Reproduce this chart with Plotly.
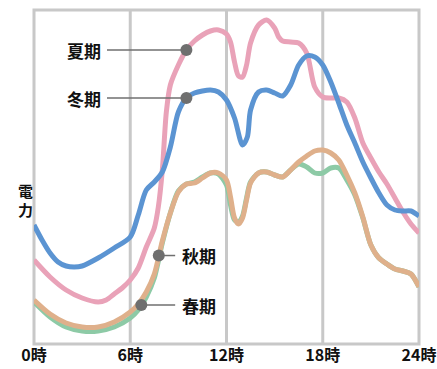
import numpy as np
import plotly.graph_objects as go

# hours of day
hours = [0, 0.5, 1, 1.5, 2, 2.5, 3, 4, 5, 6, 6.5, 7, 7.5, 8, 8.5, 9, 9.5, 10, 11, 11.5,
         12, 12.5, 13, 13.3, 13.5, 14, 14.5, 15, 15.5, 16, 16.5, 17, 17.5, 18, 18.5,
         19, 19.5, 20, 20.5, 21, 21.5, 22, 22.5, 23, 23.5, 24]
winter = [119, 104, 91, 82, 78, 77, 78, 86, 96, 107, 129, 154, 162, 172, 197, 232,
          246, 251, 254, 252, 244, 226, 199, 207, 234, 252, 254, 251, 248, 259, 279,
          288, 287, 279, 262, 241, 219, 201, 182, 166, 151, 139, 134, 133, 133, 128]

hours_s = [0, 1, 2, 3, 4, 4.5, 5, 5.5, 6, 6.5, 7, 7.5, 7.75, 8, 8.25, 8.5, 9, 9.5, 10,
           10.5, 11, 11.5, 12, 12.25, 12.5, 12.75, 13, 13.25, 13.5, 14, 14.5, 15, 15.25,
           15.5, 16, 16.5, 17, 17.5, 18, 18.5, 19, 19.5, 20, 20.5, 21, 21.5, 22, 22.5,
           23, 23.5, 24]
summer = [84, 67, 54, 46, 42, 44, 50, 56, 64, 76, 97, 116, 137, 174, 232, 259, 279,
          294, 303, 309, 313, 314, 310, 302, 282, 268, 267, 279, 301, 319, 324, 316,
          307, 303, 302, 301, 291, 257, 247, 246, 246, 242, 226, 201, 186, 172, 160,
          146, 132, 120, 111]

hours_a = [0, 1, 2, 3, 4, 5, 6, 6.5, 7, 7.5, 8, 8.5, 9, 9.5, 10, 10.5, 11, 11.5, 12,
           12.25, 12.5, 12.75, 13, 13.25, 13.5, 14, 14.5, 15, 15.5, 16, 16.5, 17, 17.5,
           18, 18.5, 19, 19.5, 20, 20.5, 21, 21.5, 22, 22.5, 23, 23.5, 24]
autumn = [44, 30, 21, 17, 17, 22, 32, 40, 52, 70, 103, 131, 152, 160, 161, 166, 171,
          171, 164, 147, 126, 120, 126, 144, 161, 171, 172, 169, 167, 174, 182, 188,
          193, 194, 191, 184, 169, 151, 127, 99, 86, 80, 75, 73, 70, 57]
spring = [42, 27, 17, 13, 13, 17, 26, 34, 47, 66, 101, 131, 153, 160, 162, 167, 171,
          170, 159, 139, 124, 122, 128, 146, 162, 171, 172, 169, 167, 174, 180, 177,
          171, 171, 176, 176, 164, 149, 126, 99, 86, 80, 75, 73, 70, 57]

tick_vals = [0, 6, 12, 18, 24]
tick_text = ["0時", "6時", "12時", "18時", "24時"]
grid_hours = [6, 12, 18]
axis_label = ["電", "力"]

# callouts: label, hour on curve
callout_summer = ("夏期", 9.5)
callout_winter = ("冬期", 9.5)
callout_autumn = ("秋期", 7.78)
callout_spring = ("春期", 6.69)

C_WIN = "#5b94d2"
C_SUM = "#e9a2b8"
C_AUT = "#dfb08b"
C_SPR = "#8dcaa6"
C_GRID = "#c8c8c8"
C_MARK = "#6f6f6f"
FONT = "Noto Sans CJK JP"

fig = go.Figure()
lw = 5
fig.add_trace(go.Scatter(x=hours_a, y=spring, mode="lines",
                         line=dict(color=C_SPR, width=lw, shape="spline", smoothing=0.8)))
fig.add_trace(go.Scatter(x=hours_a, y=autumn, mode="lines",
                         line=dict(color=C_AUT, width=lw, shape="spline", smoothing=0.8)))
fig.add_trace(go.Scatter(x=hours_s, y=summer, mode="lines",
                         line=dict(color=C_SUM, width=lw, shape="spline", smoothing=0.8)))
fig.add_trace(go.Scatter(x=hours, y=winter, mode="lines",
                         line=dict(color=C_WIN, width=lw, shape="spline", smoothing=0.8)))

pts = [
    (callout_summer, hours_s, summer, "left"),
    (callout_winter, hours, winter, "left"),
    (callout_autumn, hours_a, autumn, "right"),
    (callout_spring, hours_a, spring, "right"),
]
for (label, h), xs, ys, side in pts:
    yv = float(np.interp(h, xs, ys))
    if side == "left":
        x0, xt, anchor = 4.55, 4.3, "right"
    else:
        x0, xt, anchor = 8.8, 9.1, "left"
    fig.add_shape(type="line", x0=x0, x1=h, y0=yv, y1=yv,
                  line=dict(color=C_MARK, width=1.5), layer="above")
    fig.add_annotation(x=xt, y=yv, text=f"<b>{label}</b>", showarrow=False,
                       xanchor=anchor, yanchor="middle",
                       font=dict(family=FONT, size=17, color="#111"))
    fig.add_trace(go.Scatter(x=[h], y=[yv], mode="markers",
                             marker=dict(color=C_MARK, size=12)))

for g in grid_hours:
    fig.add_shape(type="line", x0=g, x1=g, y0=0, y1=1, yref="paper",
                  line=dict(color=C_GRID, width=3), layer="below")
fig.add_shape(type="rect", x0=0, x1=1, y0=0, y1=1, xref="paper", yref="paper",
              line=dict(color=C_GRID, width=3), layer="below")

for i, ch in enumerate(axis_label):
    fig.add_annotation(x=0, xshift=-17, y=0.5, yshift=-13 - 19 * i,
                       xref="paper", yref="paper",
                       text=f"<b>{ch}</b>", showarrow=False, borderpad=0,
                       font=dict(family=FONT, size=15, color="#111"))

fig.update_layout(
    width=437, height=369,
    margin=dict(l=34, r=18, t=10, b=25, autoexpand=False),
    plot_bgcolor="white", paper_bgcolor="white",
    showlegend=False,
    xaxis=dict(range=[0, 24], tickvals=tick_vals, automargin=False,
               ticktext=[f"<b>{t}</b>" for t in tick_text],
               showgrid=False, zeroline=False, showline=False, ticks="",
               tickfont=dict(family=FONT, size=16, color="#111")),
    yaxis=dict(range=[0, 334], showgrid=False, zeroline=False, showline=False,
               showticklabels=False, ticks="", automargin=False),
)
fig.write_html("out.html", config={"displayModeBar": False},
               post_script="document.body.style.margin='0';document.body.style.overflow='hidden';")
